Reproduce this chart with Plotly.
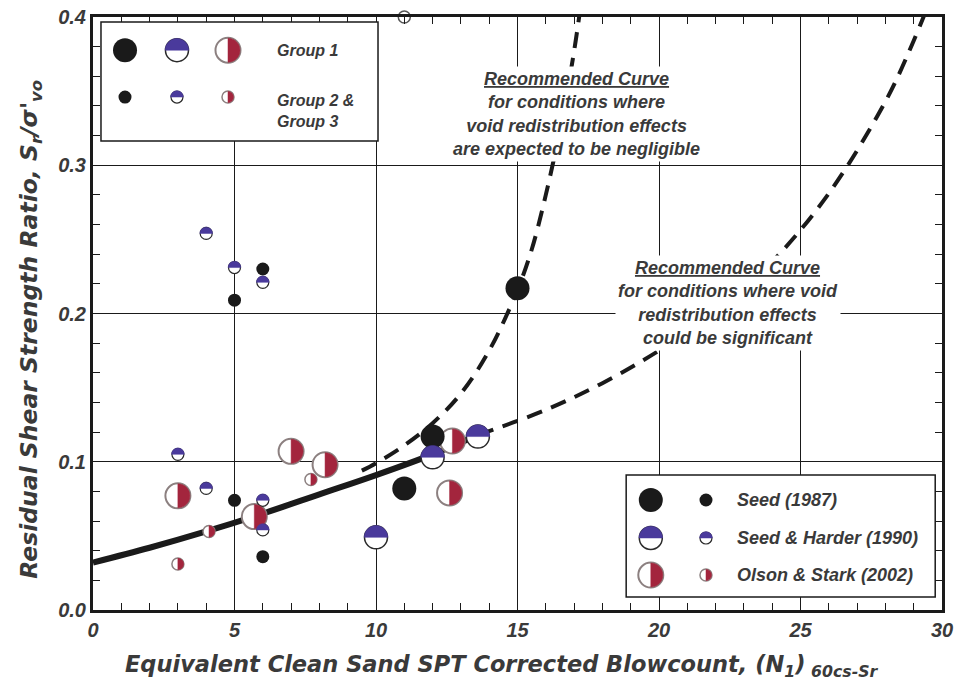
import plotly.graph_objects as go

# ---------------- data ----------------
# Seed (1987)
seed87_g1_x = [11.0, 12.0, 15.0]
seed87_g1_y = [0.082, 0.117, 0.217]
seed87_g2_x = [5.0, 5.0, 6.0, 6.0]
seed87_g2_y = [0.209, 0.074, 0.230, 0.036]
# Seed & Harder (1990)
sh90_g1_x = [10.0, 12.0, 13.6]
sh90_g1_y = [0.049, 0.103, 0.117]
sh90_g2_x = [3.0, 4.0, 4.0, 5.0, 6.0, 6.0, 6.0]
sh90_g2_y = [0.105, 0.254, 0.082, 0.231, 0.221, 0.074, 0.054]
# Olson & Stark (2002)
os02_g1_x = [12.7, 3.0, 5.7, 7.0, 8.2, 12.6]
os02_g1_y = [0.114, 0.077, 0.063, 0.107, 0.098, 0.079]
os02_g2_x = [3.0, 4.1, 7.7]
os02_g2_y = [0.031, 0.053, 0.088]
offscale_x = [11.0]
offscale_y = [0.400]

# Recommended curves
solid_x = [0, 2, 4, 6, 8, 10, 12, 13.6]
solid_y = [0.032, 0.042, 0.053, 0.065, 0.078, 0.091, 0.105, 0.118]
sig_x = [13.6, 16, 18, 20, 22, 24, 26, 28, 29, 30]
sig_y = [0.118, 0.135, 0.153, 0.175, 0.201, 0.235, 0.281, 0.343, 0.384, 0.432]
neg_x = [9.5, 10, 11, 12, 13, 14, 15, 15.5, 16, 16.5, 17, 17.5]
neg_y = [0.094, 0.099, 0.111, 0.126, 0.146, 0.175, 0.216, 0.243, 0.280, 0.324, 0.377, 0.446]

x_ticks = [0, 5, 10, 15, 20, 25, 30]
y_ticks = [0.0, 0.1, 0.2, 0.3, 0.4]

legend_names = ["Seed (1987)", "Seed & Harder (1990)", "Olson & Stark (2002)"]
group_names = ["Group 1", "Group 2 &<br>Group 3"]
x_title = "Equivalent Clean Sand SPT Corrected Blowcount, (N<sub>1</sub>)<sub> 60cs-Sr</sub>"
y_title = "Residual Shear Strength Ratio, S<sub>r</sub>/σ'<sub>vo</sub>"

# ---------------- styles ----------------
BLACK = "#1a1a1a"
BLUE = "#4a3a9c"
RED = "#a3253d"
GRAY_OUT = "#8c8080"
TXT = "#3a3a3a"
FONT = "Liberation Sans"
WIDE = "DejaVu Sans"

BIG = {"seed": 24, "sh": 23, "os": 25}
SMALL = {"seed": 13, "sh": 12, "os": 12}

fig = go.Figure()

# curves
fig.add_trace(go.Scatter(x=neg_x, y=neg_y, mode="lines", line=dict(color=BLACK, width=4, dash="16px,10px", shape="spline"),
                         showlegend=False, hoverinfo="skip"))
fig.add_trace(go.Scatter(x=sig_x, y=sig_y, mode="lines", line=dict(color=BLACK, width=4, dash="16px,10px", shape="spline"),
                         showlegend=False, hoverinfo="skip"))
fig.add_trace(go.Scatter(x=solid_x, y=solid_y, mode="lines", line=dict(color=BLACK, width=6, shape="spline"),
                         showlegend=False, hoverinfo="skip"))


def pts(x, y, size, fill, lc, lw, name, clip=True):
    fig.add_trace(go.Scatter(x=x, y=y, mode="markers", name=name, showlegend=False, cliponaxis=clip,
                             marker=dict(symbol="circle", size=size, color=fill, line=dict(color=lc, width=lw))))


pts(os02_g1_x, os02_g1_y, BIG["os"], "white", GRAY_OUT, 2, "Olson & Stark (2002) G1")
pts(os02_g2_x, os02_g2_y, SMALL["os"], "white", GRAY_OUT, 1.5, "Olson & Stark (2002) G2")
pts(offscale_x, offscale_y, SMALL["os"], "white", "#555555", 1.5, "off-scale", clip=False)
pts(sh90_g1_x, sh90_g1_y, BIG["sh"], "white", "#2a2a2a", 1.5, "Seed & Harder (1990) G1")
pts(sh90_g2_x, sh90_g2_y, SMALL["sh"], "white", "#2a2a2a", 1.2, "Seed & Harder (1990) G2")

K = 0.5523


def top_half(r):
    k = K * r
    return f"M {-r},0 C {-r},{k} {-k},{r} 0,{r} C {k},{r} {r},{k} {r},0 Z"


def right_half(r):
    k = K * r
    return f"M 0,{-r} C {k},{-r} {r},{-k} {r},0 C {r},{k} {k},{r} 0,{r} Z"


shapes = []


def half_shape(xa, ya, path, color, xref="x", yref="y"):
    shapes.append(dict(type="path", xref=xref, yref=yref, xsizemode="pixel", ysizemode="pixel",
                       xanchor=xa, yanchor=ya, path=path, fillcolor=color,
                       line=dict(color=color, width=0.5), layer="above"))


def circle_shape(xa, ya, r, fill, lc, lw, xref="paper", yref="paper"):
    shapes.append(dict(type="circle", xref=xref, yref=yref, xsizemode="pixel", ysizemode="pixel",
                       xanchor=xa, yanchor=ya, x0=-r, x1=r, y0=-r, y1=r, fillcolor=fill,
                       line=dict(color=lc, width=lw), layer="above"))


for xa, ya in zip(os02_g1_x, os02_g1_y):
    half_shape(xa, ya, right_half(BIG["os"] / 2 - 0.5), RED)
for xa, ya in zip(os02_g2_x, os02_g2_y):
    half_shape(xa, ya, right_half(SMALL["os"] / 2 - 0.3), RED)
for xa, ya in zip(sh90_g1_x, sh90_g1_y):
    half_shape(xa, ya, top_half(BIG["sh"] / 2 + 0.3), BLUE)
for xa, ya in zip(sh90_g2_x, sh90_g2_y):
    half_shape(xa, ya, top_half(SMALL["sh"] / 2 + 0.3), BLUE)

# Seed (1987) black points drawn last (on top)
pts(seed87_g2_x, seed87_g2_y, SMALL["seed"], BLACK, BLACK, 0, "Seed (1987) G2")
pts(seed87_g1_x, seed87_g1_y, BIG["seed"], BLACK, BLACK, 0, "Seed (1987) G1")

# ---------------- custom legend boxes ----------------
shapes.append(dict(type="rect", xref="paper", yref="paper", x0=0.0094, x1=0.3357, y0=0.791, y1=0.9916,
                   fillcolor="white", line=dict(color=BLACK, width=1.5), layer="above"))
shapes.append(dict(type="rect", xref="paper", yref="paper", x0=0.628, x1=0.992, y0=0.0219, y1=0.2277,
                   fillcolor="white", line=dict(color=BLACK, width=1.5), layer="above"))


def legend_symbol(kind, xa, ya, big):
    if kind == "seed":
        r = (BIG if big else SMALL)["seed"] / 2
        circle_shape(xa, ya, r, BLACK, BLACK, 0)
    elif kind == "sh":
        r = (BIG if big else SMALL)["sh"] / 2
        circle_shape(xa, ya, r, "white", "#2a2a2a", 1.5 if big else 1.2)
        half_shape(xa, ya, top_half(r + 0.3), BLUE, "paper", "paper")
    else:
        r = (BIG if big else SMALL)["os"] / 2
        circle_shape(xa, ya, r, "white", GRAY_OUT, 2 if big else 1.5)
        half_shape(xa, ya, right_half(r - 0.5), RED, "paper", "paper")


kinds = ["seed", "sh", "os"]
# top-left legend: groups
tl_x = [0.0377, 0.0989, 0.159]
tl_y = [0.944, 0.865]
for i, kd in enumerate(kinds):
    legend_symbol(kd, tl_x[i], tl_y[0], True)
    legend_symbol(kd, tl_x[i], tl_y[1], False)
# bottom-right legend: sources
br_x = [0.657, 0.722]
br_y = [0.1855, 0.1214, 0.059]
for i, kd in enumerate(kinds):
    legend_symbol(kd, br_x[0], br_y[i], True)
    legend_symbol(kd, br_x[1], br_y[i], False)

gfont = dict(family=FONT, size=16, color=TXT, weight="bold", style="italic")
tfont = dict(family=FONT, size=18, color=TXT, weight="bold", style="italic")
annotations = []
annotations.append(dict(xref="paper", yref="paper", x=0.2144, y=0.944, xanchor="left", yanchor="middle",
                        text=group_names[0], showarrow=False, align="left", font=gfont))
annotations.append(dict(xref="paper", yref="paper", x=0.2144, y=0.8415, xanchor="left", yanchor="middle",
                        text=group_names[1], showarrow=False, align="left", font=gfont))
for i, nm in enumerate(legend_names):
    annotations.append(dict(xref="paper", yref="paper", x=0.756, y=br_y[i], xanchor="left", yanchor="middle",
                            text=nm, showarrow=False, align="left", font=tfont))

annotations.append(dict(x=17.1, y=0.3345, xref="x", yref="y", showarrow=False, align="center",
                        text="<u>Recommended Curve</u><br>for conditions where<br>void redistribution effects<br>are expected to be negligible",
                        font=tfont, bgcolor="white", borderpad=2))
annotations.append(dict(x=22.44, y=0.2074, xref="x", yref="y", showarrow=False, align="center",
                        text="<u>Recommended Curve</u><br>for conditions where void<br>redistribution effects<br>could be significant",
                        font=tfont, bgcolor="white", borderpad=2))
# axis titles
annotations.append(dict(xref="paper", yref="paper", x=0.482, y=-0.094, xanchor="center", yanchor="middle",
                        text=x_title, showarrow=False,
                        font=dict(family=WIDE, size=22.5, color=TXT, weight="bold", style="italic")))
annotations.append(dict(xref="paper", yref="paper", x=-0.074, y=0.473, xanchor="center", yanchor="middle",
                        text=y_title, showarrow=False, textangle=-90,
                        font=dict(family=WIDE, size=23.5, color=TXT, weight="bold", style="italic")))

axfont = dict(family=FONT, size=20, color=TXT, weight="bold", style="italic")

fig.update_layout(
    width=955, height=684,
    margin=dict(l=93, r=13, t=17, b=74),
    paper_bgcolor="white", plot_bgcolor="white",
    shapes=shapes, annotations=annotations,
    showlegend=False,
    xaxis=dict(range=[0, 30], tickvals=x_ticks, ticktext=[str(v) for v in x_ticks], tickfont=axfont,
               automargin=False,
               showgrid=True, gridcolor=BLACK, gridwidth=1, zeroline=False,
               showline=True, linecolor=BLACK, linewidth=3, mirror="allticks",
               ticks="inside", ticklen=10, tickcolor=BLACK, tickwidth=1,
               minor=dict(ticks="inside", dtick=1, ticklen=7, tickcolor=BLACK, tickwidth=1, showgrid=False)),
    yaxis=dict(range=[0, 0.4], tickvals=y_ticks, ticktext=[f"{v:.1f}" for v in y_ticks], tickfont=axfont,
               automargin=False,
               showgrid=True, gridcolor=BLACK, gridwidth=1, zeroline=False,
               showline=True, linecolor=BLACK, linewidth=3, mirror="allticks",
               ticks="inside", ticklen=10, tickcolor=BLACK, tickwidth=1,
               minor=dict(ticks="inside", dtick=0.02, ticklen=7, tickcolor=BLACK, tickwidth=1, showgrid=False)),
)

fig.write_html("out.html", config={"displayModeBar": False},
               post_script="document.body.style.margin='0';")
